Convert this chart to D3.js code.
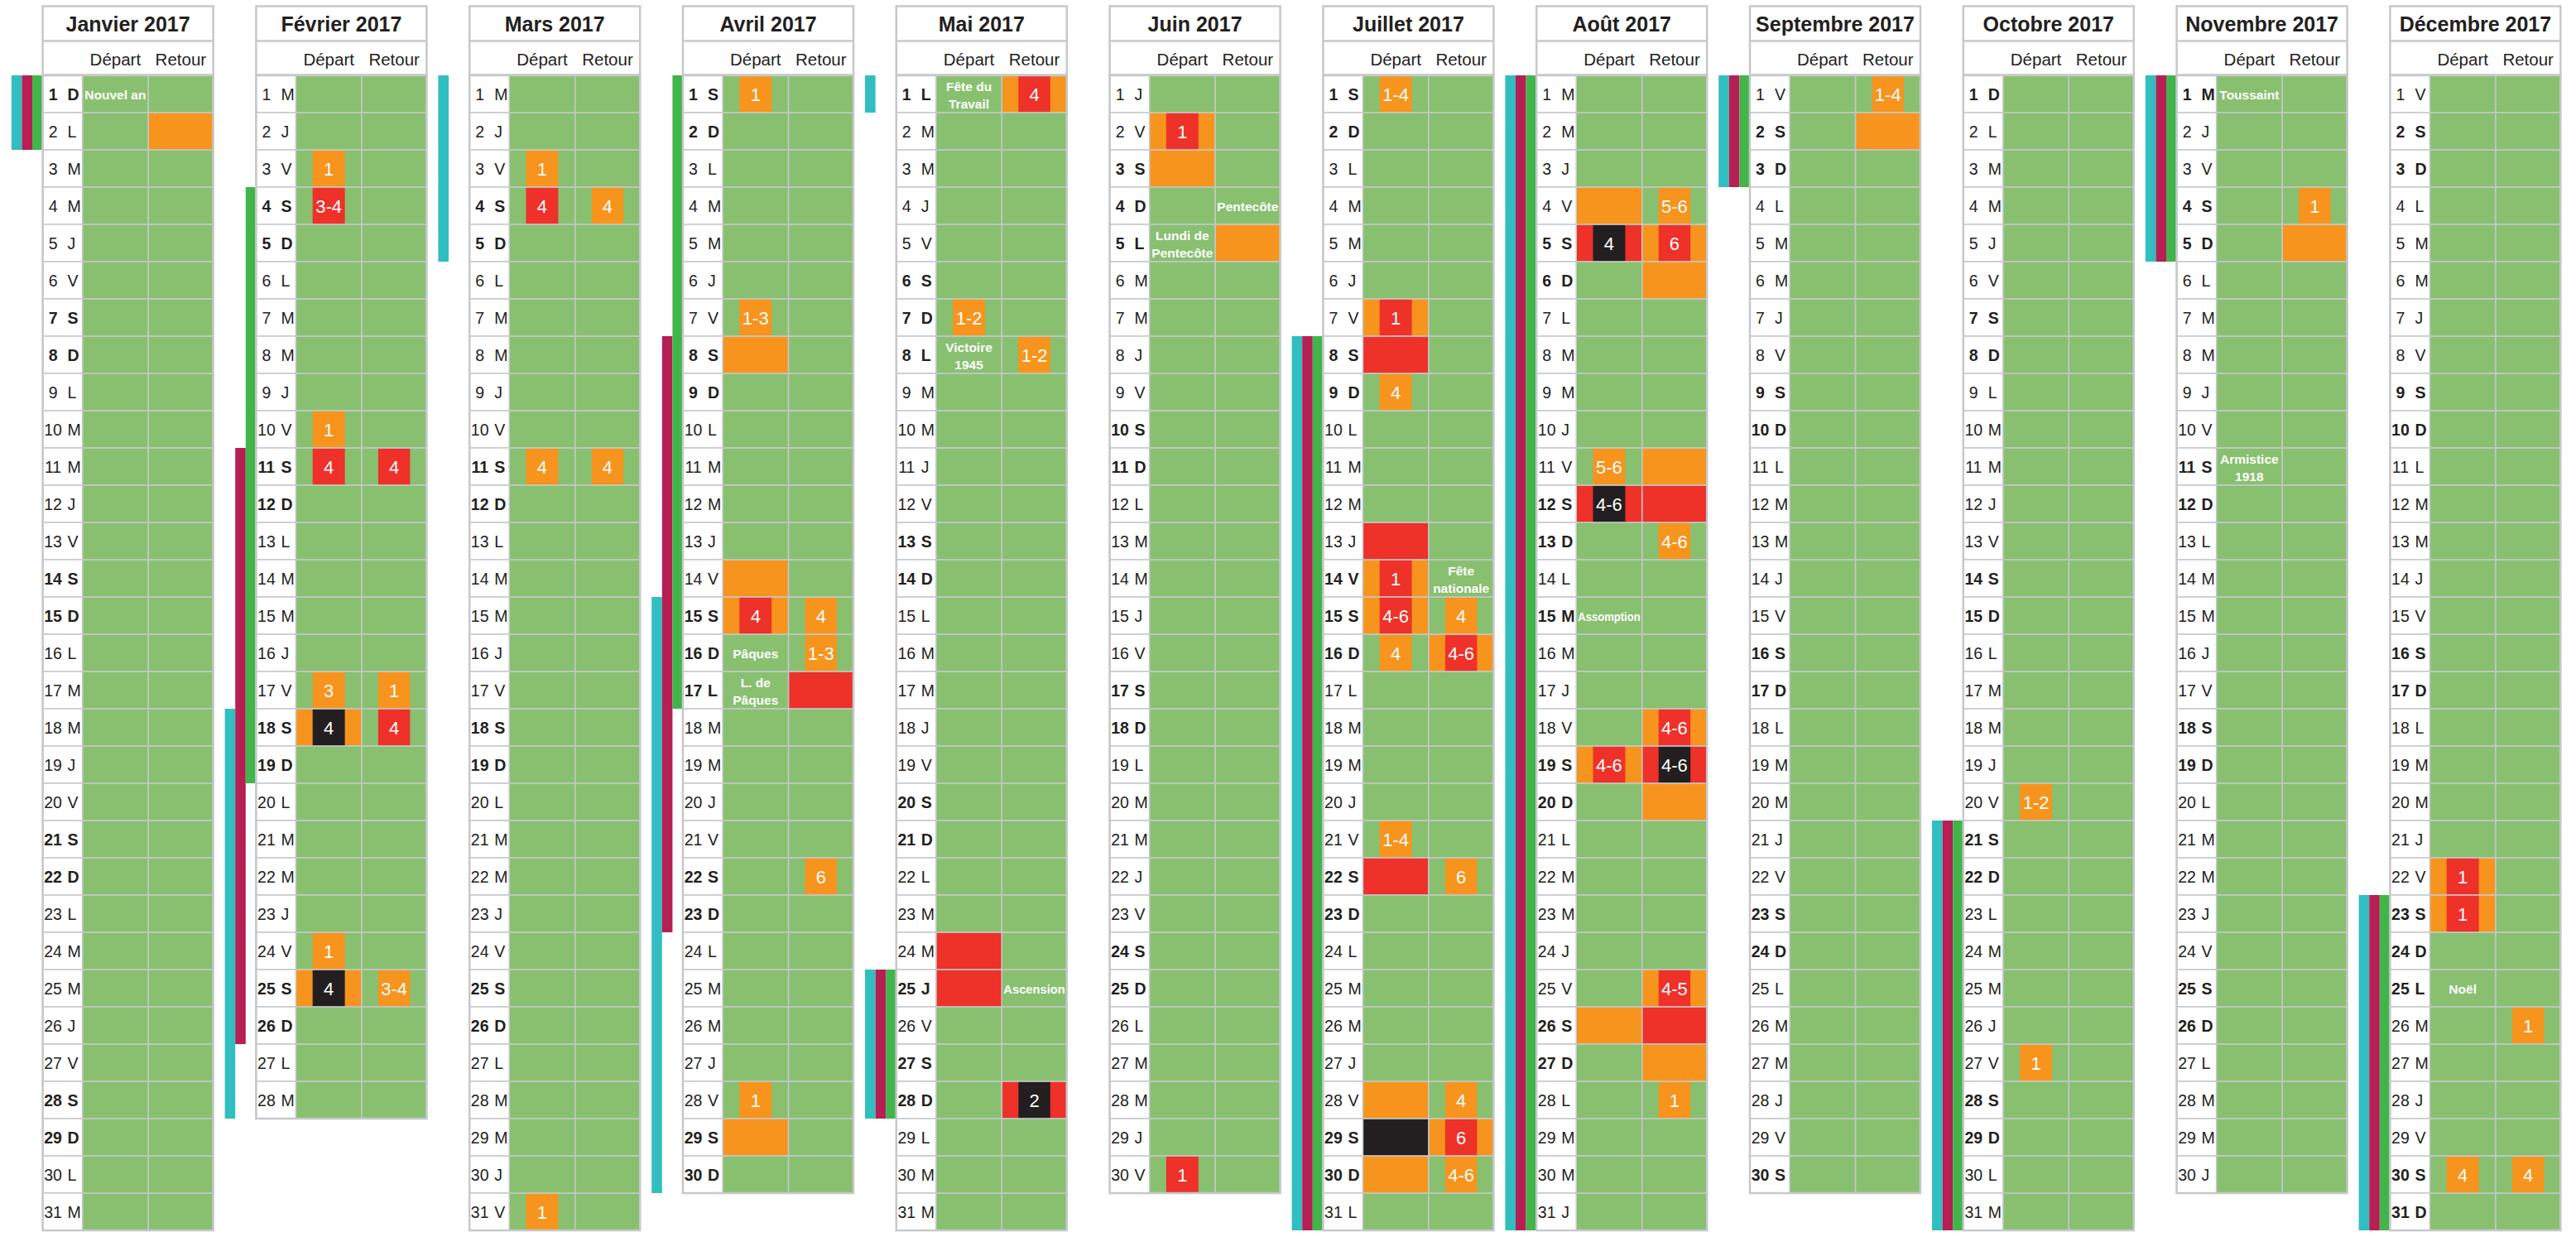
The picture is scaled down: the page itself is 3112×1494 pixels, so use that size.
<!DOCTYPE html>
<html>
<head>
<meta charset="utf-8">
<script src="https://cdn.jsdelivr.net/npm/d3@7"></script>
<style>
  body { margin: 0; background: white; }
  text { font-family: 'Liberation Sans', Arial, sans-serif; }
</style>
</head>
<body>
<svg id="canvas"></svg>
<script>
let monthNames = ['Janvier 2017', 'Février 2017', 'Mars 2017', 'Avril 2017', 'Mai 2017', 'Juin 2017',
    'Juillet 2017', 'Août 2017', 'Septembre 2017', 'Octobre 2017', 'Novembre 2017', 'Décembre 2017'];
let daysInMonth = [31, 28, 31, 30, 31, 30, 31, 31, 30, 31, 30, 31];
let weekdayLetters = ['D', 'L', 'M', 'M', 'J', 'V', 'S'];
let columnNames = ['Départ', 'Retour'];

// [month, day] of public holidays (bold day label)
let publicHolidays = [[0, 1], [3, 17], [4, 1], [4, 8], [4, 25], [5, 5], [6, 14], [7, 15], [10, 1], [10, 11], [11, 25]];

// whole cell coloured: [month, day, column, colour]
let fullFills = [
    [0, 2, 'R', 'o'],
    [1, 18, 'D', 'o'], [1, 25, 'D', 'o'],
    [3, 8, 'D', 'o'], [3, 14, 'D', 'o'], [3, 15, 'D', 'o'], [3, 17, 'R', 'r'], [3, 29, 'D', 'o'],
    [4, 1, 'R', 'o'], [4, 24, 'D', 'r'], [4, 25, 'D', 'r'], [4, 28, 'R', 'r'],
    [5, 2, 'D', 'o'], [5, 3, 'D', 'o'], [5, 5, 'R', 'o'],
    [6, 7, 'D', 'o'], [6, 8, 'D', 'r'], [6, 13, 'D', 'r'], [6, 14, 'D', 'o'], [6, 15, 'D', 'o'], [6, 16, 'R', 'o'],
    [6, 22, 'D', 'r'], [6, 28, 'D', 'o'], [6, 29, 'D', 'k'], [6, 29, 'R', 'o'], [6, 30, 'D', 'o'],
    [7, 4, 'D', 'o'], [7, 5, 'D', 'r'], [7, 5, 'R', 'o'], [7, 6, 'R', 'o'], [7, 11, 'R', 'o'], [7, 12, 'D', 'r'],
    [7, 12, 'R', 'r'], [7, 18, 'R', 'o'], [7, 19, 'D', 'o'], [7, 19, 'R', 'r'], [7, 20, 'R', 'o'], [7, 25, 'R', 'o'],
    [7, 26, 'D', 'o'], [7, 26, 'R', 'r'], [7, 27, 'R', 'o'],
    [8, 2, 'R', 'o'],
    [10, 5, 'R', 'o'],
    [11, 22, 'D', 'o'], [11, 23, 'D', 'o']
];

// small box with the hours: [month, day, column, colour, label]
let boxes = [
    [1, 3, 'D', 'o', '1'], [1, 4, 'D', 'r', '3-4'], [1, 10, 'D', 'o', '1'], [1, 11, 'D', 'r', '4'], [1, 11, 'R', 'r', '4'],
    [1, 17, 'D', 'o', '3'], [1, 17, 'R', 'o', '1'], [1, 18, 'D', 'k', '4'], [1, 18, 'R', 'r', '4'], [1, 24, 'D', 'o', '1'],
    [1, 25, 'D', 'k', '4'], [1, 25, 'R', 'o', '3-4'],
    [2, 3, 'D', 'o', '1'], [2, 4, 'D', 'r', '4'], [2, 4, 'R', 'o', '4'], [2, 11, 'D', 'o', '4'], [2, 11, 'R', 'o', '4'],
    [2, 31, 'D', 'o', '1'],
    [3, 1, 'D', 'o', '1'], [3, 7, 'D', 'o', '1-3'], [3, 15, 'D', 'r', '4'], [3, 15, 'R', 'o', '4'], [3, 16, 'R', 'o', '1-3'],
    [3, 22, 'R', 'o', '6'], [3, 28, 'D', 'o', '1'],
    [4, 1, 'R', 'r', '4'], [4, 7, 'D', 'o', '1-2'], [4, 8, 'R', 'o', '1-2'], [4, 28, 'R', 'k', '2'],
    [5, 2, 'D', 'r', '1'], [5, 30, 'D', 'r', '1'],
    [6, 1, 'D', 'o', '1-4'], [6, 7, 'D', 'r', '1'], [6, 9, 'D', 'o', '4'], [6, 14, 'D', 'r', '1'], [6, 15, 'D', 'r', '4-6'],
    [6, 15, 'R', 'o', '4'], [6, 16, 'D', 'o', '4'], [6, 16, 'R', 'r', '4-6'], [6, 21, 'D', 'o', '1-4'], [6, 22, 'R', 'o', '6'],
    [6, 28, 'R', 'o', '4'], [6, 29, 'R', 'r', '6'], [6, 30, 'R', 'o', '4-6'],
    [7, 4, 'R', 'o', '5-6'], [7, 5, 'D', 'k', '4'], [7, 5, 'R', 'r', '6'], [7, 11, 'D', 'o', '5-6'], [7, 12, 'D', 'k', '4-6'],
    [7, 13, 'R', 'o', '4-6'], [7, 18, 'R', 'r', '4-6'], [7, 19, 'D', 'r', '4-6'], [7, 19, 'R', 'k', '4-6'],
    [7, 25, 'R', 'r', '4-5'], [7, 28, 'R', 'o', '1'],
    [8, 1, 'R', 'o', '1-4'],
    [9, 20, 'D', 'o', '1-2'], [9, 27, 'D', 'o', '1'],
    [10, 4, 'R', 'o', '1'],
    [11, 22, 'D', 'r', '1'], [11, 23, 'D', 'r', '1'], [11, 26, 'R', 'o', '1'], [11, 30, 'D', 'o', '4'], [11, 30, 'R', 'o', '4']
];

// holiday names written in the cells: [month, day, column, lines]
let notes = [
    [0, 1, 'D', ['Nouvel an']],
    [3, 16, 'D', ['Pâques']],
    [3, 17, 'D', ['L. de', 'Pâques']],
    [4, 1, 'D', ['Fête du', 'Travail']],
    [4, 8, 'D', ['Victoire', '1945']],
    [4, 25, 'R', ['Ascension']],
    [5, 4, 'R', ['Pentecôte']],
    [5, 5, 'D', ['Lundi de', 'Pentecôte']],
    [6, 14, 'R', ['Fête', 'nationale']],
    [7, 15, 'D', ['Assomption']],
    [10, 1, 'D', ['Toussaint']],
    [10, 11, 'D', ['Armistice', '1918']],
    [11, 25, 'D', ['Noël']]
];

// school holidays per zone: [month, first day, last day]
let zoneA = [[0, 1, 2], [1, 18, 28], [2, 1, 5], [3, 15, 30], [4, 1, 1], [4, 25, 28], [6, 8, 31], [7, 1, 31],
    [8, 1, 3], [9, 21, 31], [10, 1, 5], [11, 23, 31]];
let zoneB = [[0, 1, 2], [1, 11, 26], [3, 8, 23], [4, 25, 28], [6, 8, 31], [7, 1, 31],
    [8, 1, 3], [9, 21, 31], [10, 1, 5], [11, 23, 31]];
let zoneC = [[0, 1, 2], [1, 4, 19], [3, 1, 17], [4, 25, 28], [6, 8, 31], [7, 1, 31],
    [8, 1, 3], [9, 21, 31], [10, 1, 5], [11, 23, 31]];

let width = 3112;
let height = 1494;
let tableWidth = 206;
let gridColour = '#c6c8ca';
let inkColour = '#231f20';

let canvas = d3.select('#canvas')
    .attr('width', width)
    .attr('height', height);

let monthScale = d3.scaleLinear().domain([0, 11]).range([51.6, 2887.4]);
let dayScale = d3.scaleLinear().domain([1, 32]).range([91, 1486]);
let colScale = d3.scaleOrdinal().domain(['J', 'D', 'R']).range([0, 48, 127.5]);
let colWidth = d3.scaleOrdinal().domain(['J', 'D', 'R']).range([48, 79.5, 78.5]);
let zoneScale = d3.scaleBand().domain(['A', 'B', 'C']).range([-37.8, 0]);
let colourScale = d3.scaleOrdinal().domain(['g', 'o', 'r', 'k']).range(['#88c070', '#f7941d', '#ee3129', '#231f20']);
let zoneColour = d3.scaleOrdinal().domain(['A', 'B', 'C']).range(['#31bec0', '#b51f53', '#41b54a']);

let rowTop = d => dayScale(d);
let rowH = d => dayScale(d + 1) - dayScale(d);
let cellX = (m, c) => monthScale(m) + colScale(c);

let days = [];
daysInMonth.forEach((n, m) => {
    for (let d = 1; d <= n; d++) {
        let wd = new Date(2017, m, d).getDay();
        let holiday = publicHolidays.some(h => h[0] === m && h[1] === d);
        days.push({ m: m, d: d, letter: weekdayLetters[wd], bold: wd === 0 || wd === 6 || holiday });
    }
});

let drawZones = () => {
    let bars = [];
    zoneA.forEach(z => bars.push({ zone: 'A', m: z[0], from: z[1], to: z[2] }));
    zoneB.forEach(z => bars.push({ zone: 'B', m: z[0], from: z[1], to: z[2] }));
    zoneC.forEach(z => bars.push({ zone: 'C', m: z[0], from: z[1], to: z[2] }));

    canvas.append('g').selectAll('rect')
        .data(bars)
        .enter()
        .append('rect')
        .attr('x', b => monthScale(b.m) + zoneScale(b.zone))
        .attr('y', b => rowTop(b.from))
        .attr('width', zoneScale.bandwidth())
        .attr('height', b => dayScale(b.to + 1) - dayScale(b.from))
        .attr('fill', b => zoneColour(b.zone));
};

let drawHeaders = () => {
    let g = canvas.append('g');
    g.selectAll('rect.title')
        .data(monthNames)
        .enter()
        .append('rect')
        .attr('x', (n, i) => monthScale(i))
        .attr('y', 7.5)
        .attr('width', tableWidth)
        .attr('height', 83)
        .attr('fill', 'white')
        .attr('stroke', gridColour)
        .attr('stroke-width', 2.5);

    g.selectAll('line.sep')
        .data(monthNames)
        .enter()
        .append('line')
        .attr('x1', (n, i) => monthScale(i))
        .attr('x2', (n, i) => monthScale(i) + tableWidth)
        .attr('y1', 49.5)
        .attr('y2', 49.5)
        .attr('stroke', gridColour)
        .attr('stroke-width', 2.5);

    g.selectAll('text.title')
        .data(monthNames)
        .enter()
        .append('text')
        .attr('x', (n, i) => monthScale(i) + tableWidth / 2)
        .attr('y', 38)
        .attr('text-anchor', 'middle')
        .attr('font-size', 25)
        .attr('font-weight', 'bold')
        .attr('fill', inkColour)
        .text(n => n);

    let subs = [];
    monthNames.forEach((n, m) => columnNames.forEach((c, j) => subs.push({ m: m, c: j === 0 ? 'D' : 'R', label: c })));
    g.selectAll('text.sub')
        .data(subs)
        .enter()
        .append('text')
        .attr('x', s => cellX(s.m, s.c) + colWidth(s.c) / 2)
        .attr('y', 79)
        .attr('text-anchor', 'middle')
        .attr('font-size', 20.5)
        .attr('fill', inkColour)
        .text(s => s.label);
};

let drawCells = () => {
    let cells = [];
    days.forEach(day => ['D', 'R'].forEach(c => cells.push({ m: day.m, d: day.d, c: c })));

    canvas.append('g').selectAll('rect')
        .data(cells)
        .enter()
        .append('rect')
        .attr('x', k => cellX(k.m, k.c))
        .attr('y', k => rowTop(k.d))
        .attr('width', k => colWidth(k.c))
        .attr('height', k => rowH(k.d))
        .attr('fill', colourScale('g'));

    canvas.append('g').selectAll('rect')
        .data(fullFills)
        .enter()
        .append('rect')
        .attr('x', f => cellX(f[0], f[2]))
        .attr('y', f => rowTop(f[1]))
        .attr('width', f => colWidth(f[2]))
        .attr('height', f => rowH(f[1]))
        .attr('fill', f => colourScale(f[3]));

    let bx = canvas.append('g');
    bx.selectAll('rect')
        .data(boxes)
        .enter()
        .append('rect')
        .attr('x', b => cellX(b[0], b[2]) + colWidth(b[2]) * 0.255)
        .attr('y', b => rowTop(b[1]))
        .attr('width', b => colWidth(b[2]) * 0.49)
        .attr('height', b => rowH(b[1]))
        .attr('fill', b => colourScale(b[3]));

    bx.selectAll('text')
        .data(boxes)
        .enter()
        .append('text')
        .attr('x', b => cellX(b[0], b[2]) + colWidth(b[2]) / 2)
        .attr('y', b => rowTop(b[1]) + rowH(b[1]) / 2 + 8)
        .attr('text-anchor', 'middle')
        .attr('font-size', 22)
        .attr('fill', 'white')
        .text(b => b[4]);

    // grid over the coloured cells
    canvas.append('g').selectAll('rect')
        .data(cells)
        .enter()
        .append('rect')
        .attr('x', k => cellX(k.m, k.c))
        .attr('y', k => rowTop(k.d))
        .attr('width', k => colWidth(k.c))
        .attr('height', k => rowH(k.d))
        .attr('fill', 'none')
        .attr('stroke', gridColour)
        .attr('stroke-opacity', 0.8)
        .attr('stroke-width', 1.5);
};

let drawNotes = () => {
    let lines = [];
    notes.forEach(n => n[3].forEach((t, i) => lines.push({
        m: n[0], d: n[1], c: n[2], text: t, offset: (i - (n[3].length - 1) / 2) * 21
    })));

    canvas.append('g').selectAll('text')
        .data(lines)
        .enter()
        .append('text')
        .attr('x', l => cellX(l.m, l.c) + colWidth(l.c) / 2)
        .attr('y', l => rowTop(l.d) + rowH(l.d) / 2 + l.offset + 6.5)
        .attr('text-anchor', 'middle')
        .attr('font-size', 15.5)
        .attr('font-weight', 'bold')
        .attr('fill', 'white')
        .text(l => l.text)
        .each(function (l) {
            // squeeze names that are wider than their cell
            let room = colWidth(l.c) - 4;
            if (this.getComputedTextLength() > room) {
                d3.select(this).attr('textLength', room).attr('lengthAdjust', 'spacingAndGlyphs');
            }
        });
};

let drawDayLabels = () => {
    let g = canvas.append('g');
    g.selectAll('rect')
        .data(days)
        .enter()
        .append('rect')
        .attr('x', day => cellX(day.m, 'J'))
        .attr('y', day => rowTop(day.d))
        .attr('width', colWidth('J'))
        .attr('height', day => rowH(day.d))
        .attr('fill', 'white')
        .attr('stroke', gridColour)
        .attr('stroke-width', 1.5);

    g.selectAll('text.num')
        .data(days)
        .enter()
        .append('text')
        .attr('x', day => cellX(day.m, 'J') + 12.5)
        .attr('y', day => rowTop(day.d) + rowH(day.d) / 2 + 7)
        .attr('text-anchor', 'middle')
        .attr('font-size', 19.5)
        .attr('font-weight', day => day.bold ? 'bold' : 'normal')
        .attr('fill', inkColour)
        .text(day => day.d);

    g.selectAll('text.letter')
        .data(days)
        .enter()
        .append('text')
        .attr('x', day => cellX(day.m, 'J') + 30)
        .attr('y', day => rowTop(day.d) + rowH(day.d) / 2 + 7)
        .attr('font-size', 19.5)
        .attr('font-weight', day => day.bold ? 'bold' : 'normal')
        .attr('fill', inkColour)
        .text(day => day.letter);

    // outer frame of each month
    g.selectAll('rect.frame')
        .data(daysInMonth)
        .enter()
        .append('rect')
        .attr('x', (n, m) => monthScale(m))
        .attr('y', dayScale(1))
        .attr('width', tableWidth)
        .attr('height', n => dayScale(n + 1) - dayScale(1))
        .attr('fill', 'none')
        .attr('stroke', gridColour)
        .attr('stroke-width', 2.5);
};

drawZones();
drawHeaders();
drawCells();
drawNotes();
drawDayLabels();
</script>
</body>
</html>
